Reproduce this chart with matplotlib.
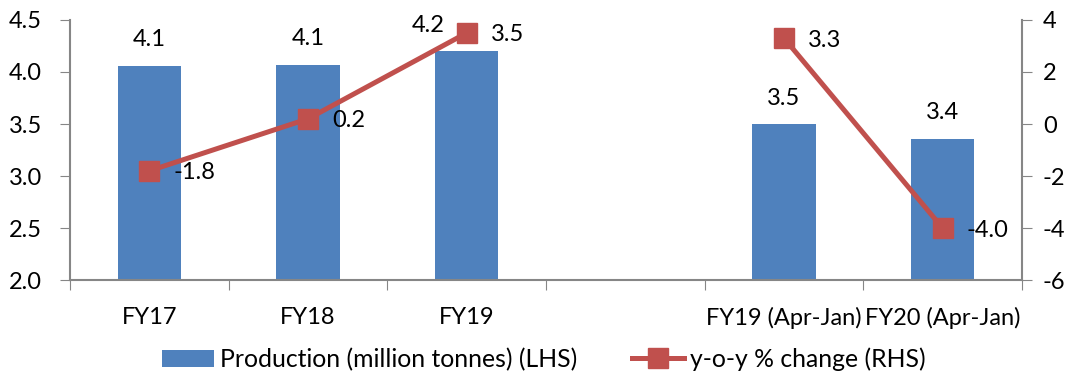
import numpy as np
import matplotlib.pyplot as plt

plt.rcParams['font.family'] = ['Lato', 'DejaVu Sans']
plt.rcParams['axes.unicode_minus'] = False

categories = ['FY17', 'FY18', 'FY19', '', 'FY19 (Apr-Jan)', 'FY20 (Apr-Jan)']
production = [4.06, 4.07, 4.20, np.nan, 3.50, 3.36]
prod_labels = ['4.1', '4.1', '4.2', '', '3.5', '3.4']
yoy = [-1.8, 0.2, 3.5, np.nan, 3.3, -4.0]

bar_color = '#4F81BD'
line_color = '#C0504D'
axis_color = '#868686'
fs = 17

fig = plt.figure(figsize=(10.69, 3.76), dpi=100)
ax = fig.add_axes([0.0655, 0.255, 0.8905, 0.692])
x = np.arange(len(categories))

bars = ax.bar(x, production, width=0.4, color=bar_color, zorder=2,
              label='Production (million tonnes) (LHS)')
ax.set_ylim(2.0, 4.5)
ax.set_yticks(np.arange(2.0, 4.51, 0.5))
ax.set_yticklabels(['%.1f' % v for v in np.arange(2.0, 4.51, 0.5)])
ax.set_xlim(-0.5, len(categories) - 0.5)

# category boundaries carry the tick marks, names sit in between
ax.set_xticks(np.arange(-0.5, len(categories), 1.0))
ax.set_xticklabels([])
ax.set_xticks(x, minor=True)
ax.set_xticklabels(categories, minor=True)
ax.tick_params(axis='x', which='major', length=7, color=axis_color, direction='out')
ax.tick_params(axis='x', which='minor', length=0, pad=19, labelsize=fs)
ax.tick_params(axis='y', length=7, color=axis_color, direction='out', pad=13, labelsize=fs)

for s in ['top', 'right']:
    ax.spines[s].set_visible(False)
for s in ['left', 'bottom']:
    ax.spines[s].set_color(axis_color)
    ax.spines[s].set_linewidth(1.5)

for i, (v, lab) in enumerate(zip(production, prod_labels)):
    if np.isnan(v):
        continue
    dx = -38 if i == 2 else 0
    ax.annotate(lab, (i, v), xytext=(dx, 26), textcoords='offset pixels',
                ha='center', va='center', fontsize=fs)

ax2 = ax.twinx()
ax2.plot(x, yoy, color=line_color, lw=3.6, marker='s', ms=14,
         label='y-o-y % change (RHS)', zorder=3)
ax2.set_ylim(-6, 4)
ax2.set_yticks(np.arange(-6, 5, 2))
ax2.tick_params(axis='y', length=7, color=axis_color, direction='out', pad=8, labelsize=fs)
for s in ['top', 'left', 'bottom']:
    ax2.spines[s].set_visible(False)
ax2.spines['right'].set_color(axis_color)
ax2.spines['right'].set_linewidth(1.5)

for i, v in enumerate(yoy):
    if np.isnan(v):
        continue
    ax2.annotate('%.1f' % v, (i, v), xytext=(24, -2), textcoords='offset pixels',
                 ha='left', va='center', fontsize=fs)

h1, l1 = ax.get_legend_handles_labels()
h2, l2 = ax2.get_legend_handles_labels()
fig.legend(h1 + h2, l1 + l2, loc='center', bbox_to_anchor=(0.509, 0.045), ncol=2,
           frameon=False, fontsize=17.8, handlelength=2.1, handletextpad=0.25,
           columnspacing=2.2)

fig.savefig('out.png', dpi=100)
